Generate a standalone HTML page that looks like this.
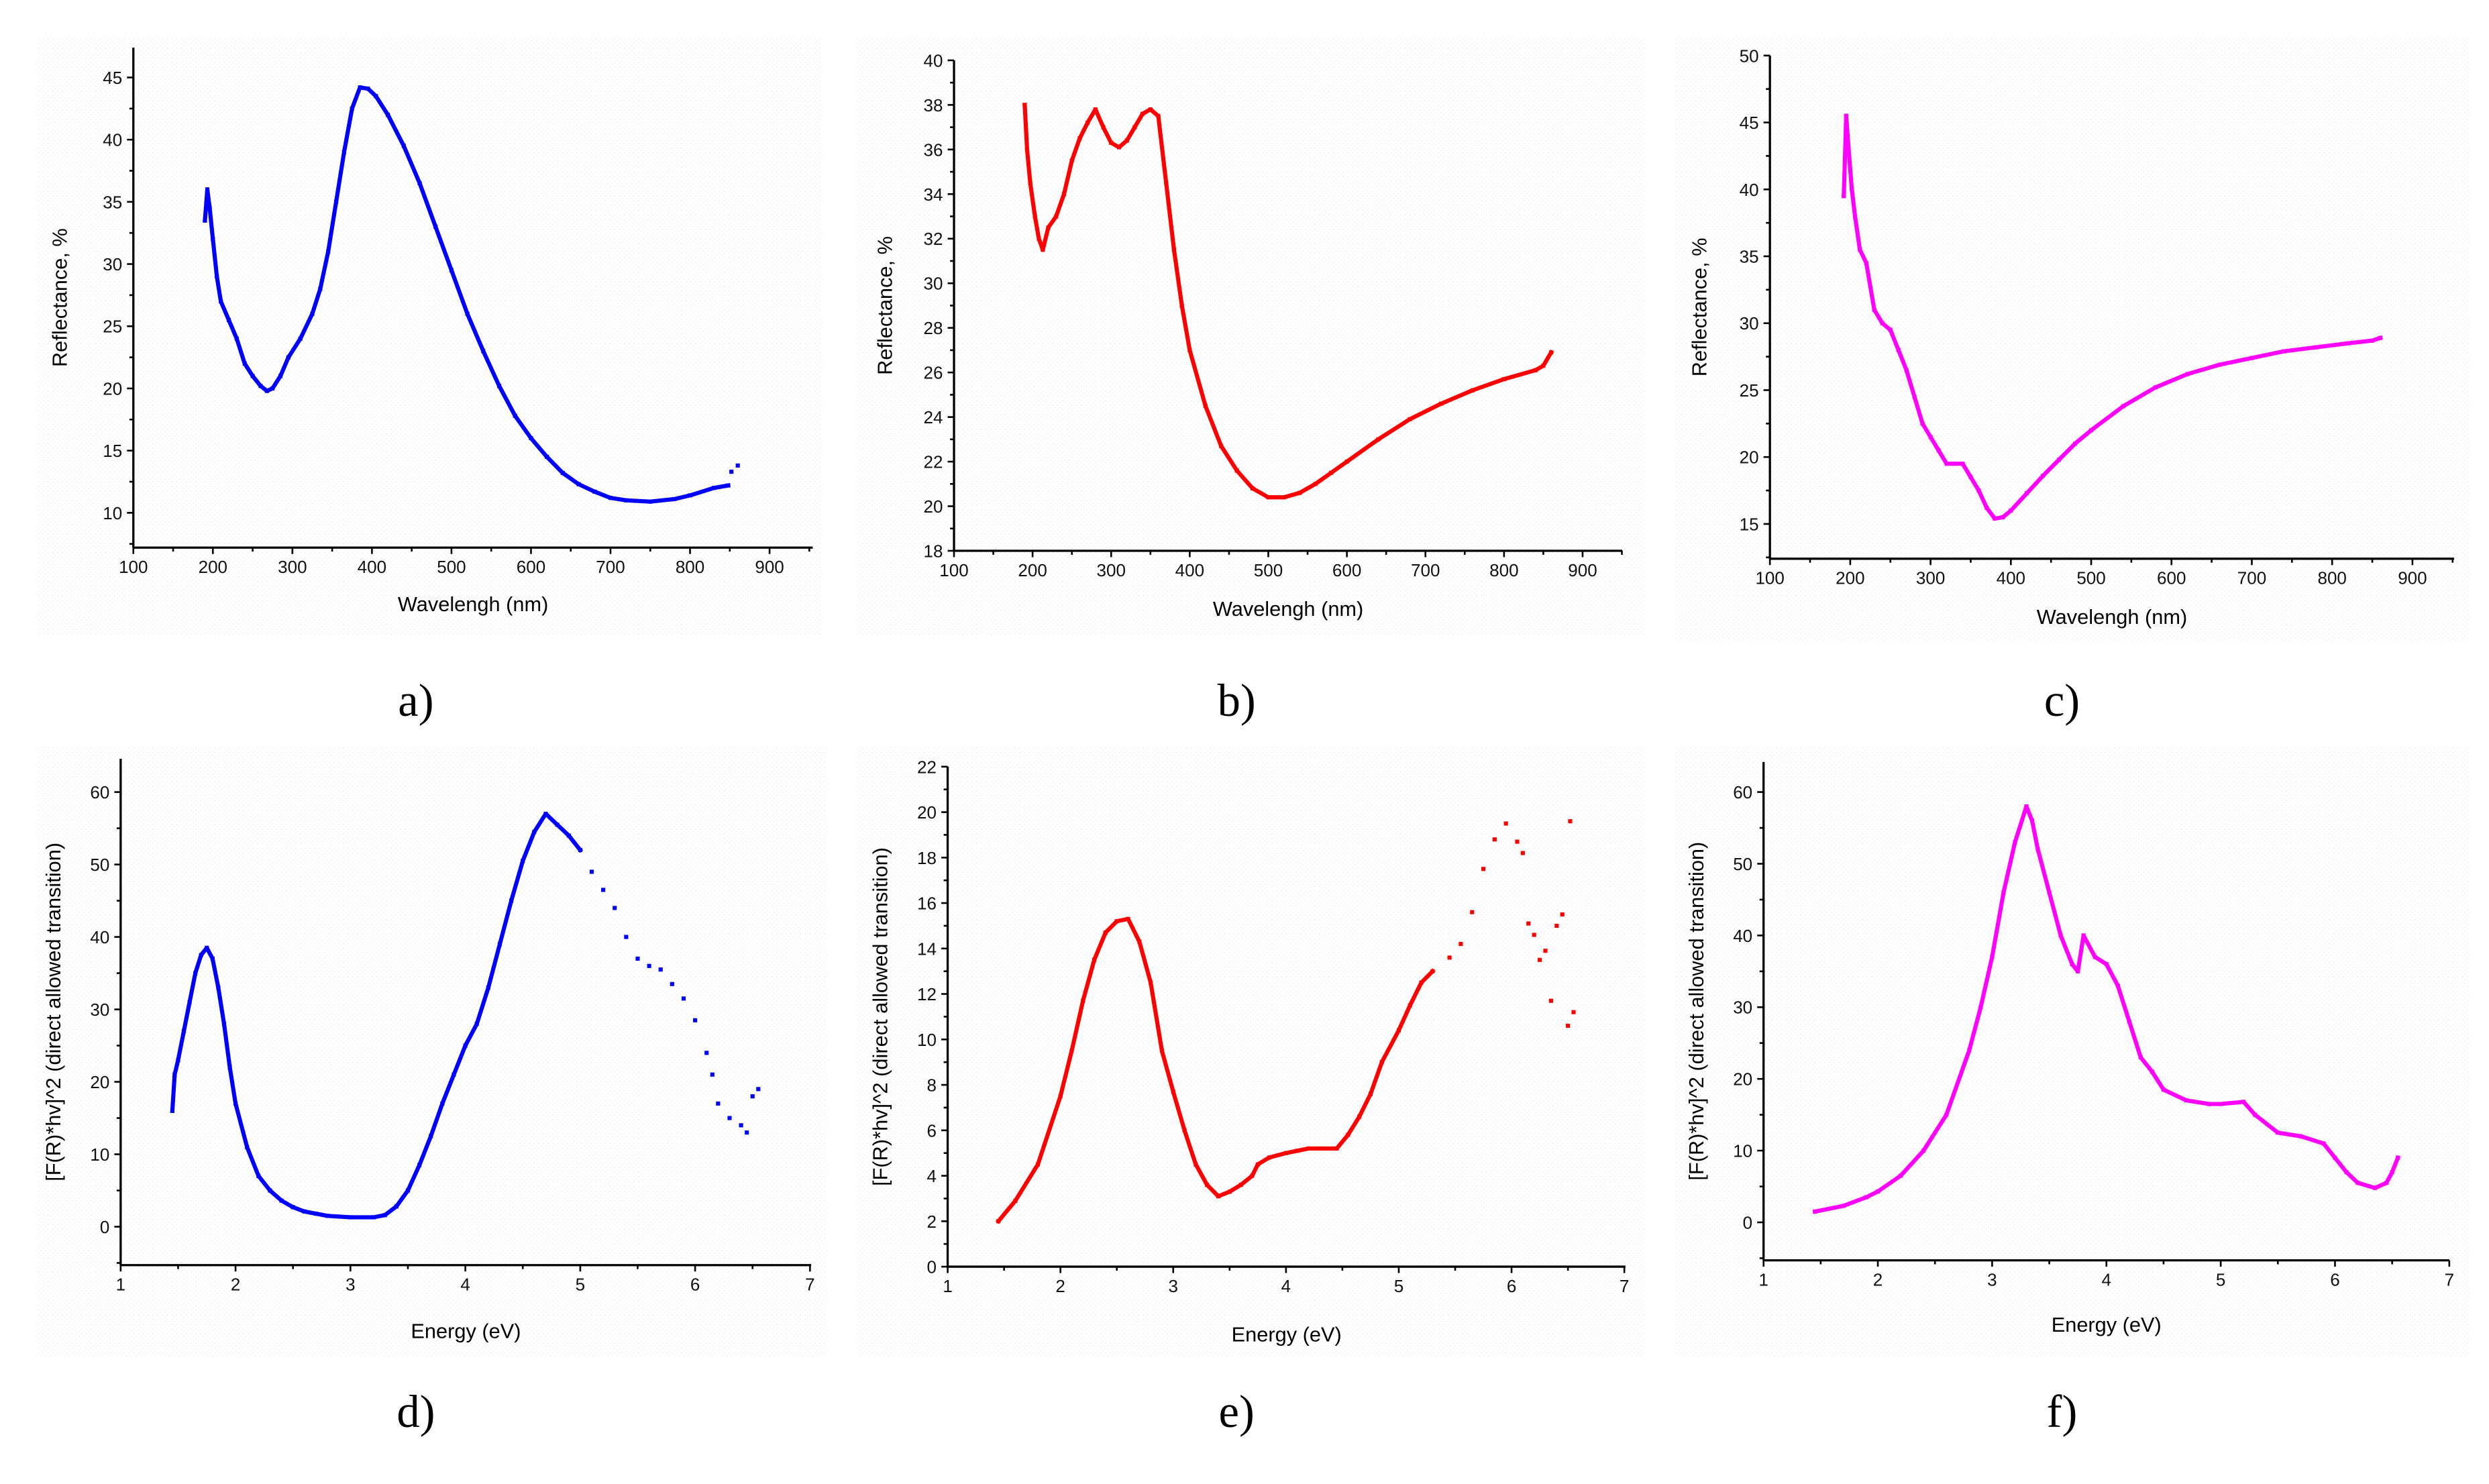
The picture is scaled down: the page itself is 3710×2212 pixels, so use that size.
<!DOCTYPE html>
<html><head><meta charset="utf-8">
<style>
html,body{margin:0;padding:0;background:#fff;}
svg{display:block;}
text{font-family:"Liberation Sans",Arial,sans-serif;}
</style></head>
<body>
<svg id="fig" width="3710" height="2212" viewBox="0 0 1568 934.9" xmlns="http://www.w3.org/2000/svg">
<defs>
<pattern id="dots" width="3" height="3" patternUnits="userSpaceOnUse">
<rect x="0" y="0" width="0.7" height="0.7" fill="#f4eaec"/>
<rect x="1.5" y="1.5" width="0.7" height="0.7" fill="#ecf6f6"/>
</pattern>
</defs>
</svg>
<script>
// ---- data (x, y) ----
const aX = [190,193,196,200,205,210,220,230,240,250,260,268,275,285,295,310,325,335,345,355,365,375,385,395,405,420,440,460,480,500,520,540,560,580,600,620,640,660,680,700,720,750,780,800,830,848,852,860];
const aY = [33.5,36,34.5,32,29,27,25.5,24,22,21,20.2,19.8,20,21,22.5,24,26,28,31,35,39,42.5,44.2,44.1,43.5,42,39.5,36.5,33,29.5,26,23,20.2,17.8,16,14.5,13.2,12.3,11.7,11.2,11,10.9,11.1,11.4,12,12.2,13.3,13.8];
const bX = [190,193,197,203,208,213,220,230,240,250,260,270,280,290,300,310,320,330,340,350,360,370,380,390,400,420,440,460,480,500,520,540,560,580,600,640,680,720,760,800,840,850,860];
const bY = [38,36,34.5,33,32,31.5,32.5,33,34,35.5,36.5,37.2,37.8,37,36.3,36.1,36.4,37,37.6,37.8,37.5,34.5,31.5,29,27,24.5,22.7,21.6,20.8,20.4,20.4,20.6,21,21.5,22,23,23.9,24.6,25.2,25.7,26.1,26.3,26.9];
const cX = [192,195,198,202,206,212,220,230,240,250,260,270,280,290,300,310,320,330,340,350,360,370,380,390,400,420,440,460,480,500,540,580,620,660,700,740,780,820,850,860];
const cY = [39.5,45.5,43,40,38,35.5,34.5,31,30,29.5,28,26.5,24.5,22.5,21.5,20.5,19.5,19.5,19.5,18.5,17.5,16.2,15.4,15.5,16,17.3,18.6,19.8,21,22,23.8,25.2,26.2,26.9,27.4,27.9,28.2,28.5,28.7,28.9];
const dX = [1.45,1.47,1.5,1.55,1.6,1.65,1.7,1.75,1.8,1.85,1.9,1.95,2.0,2.1,2.2,2.3,2.4,2.5,2.6,2.7,2.8,3.0,3.2,3.3,3.4,3.5,3.6,3.7,3.8,3.9,4.0,4.1,4.2,4.3,4.4,4.5,4.6,4.7,4.8,4.9,5.0,5.1,5.2,5.3,5.4,5.5,5.6,5.7,5.8,5.9,6.0,6.1,6.15,6.2,6.3,6.4,6.45,6.5,6.55];
const dY = [16,21,23,27,31,35,37.5,38.5,37,33,28,22,17,11,7,5,3.6,2.7,2.1,1.8,1.5,1.3,1.3,1.6,2.8,5,8.5,12.5,17,21,25,28,33,39,45,50.5,54.5,57,55.5,54,52,49,46.5,44,40,37,36,35.5,33.5,31.5,28.5,24,21,17,15,14,13,18,19];
const eX = [1.45,1.6,1.8,2.0,2.1,2.2,2.3,2.4,2.5,2.6,2.7,2.8,2.9,3.0,3.1,3.2,3.3,3.4,3.5,3.6,3.7,3.75,3.85,4.0,4.1,4.2,4.3,4.45,4.55,4.65,4.75,4.85,5.0,5.1,5.2,5.3,5.45,5.55,5.65,5.75,5.85,5.95,6.05,6.1,6.15,6.2,6.25,6.3,6.35,6.4,6.45,6.5,6.52,6.55];
const eY = [2,2.9,4.5,7.5,9.5,11.7,13.5,14.7,15.2,15.3,14.3,12.5,9.5,7.7,6,4.5,3.6,3.1,3.3,3.6,4,4.5,4.8,5,5.1,5.2,5.2,5.2,5.8,6.6,7.6,9,10.4,11.5,12.5,13,13.6,14.2,15.6,17.5,18.8,19.5,18.7,18.2,15.1,14.6,13.5,13.9,11.7,15,15.5,10.6,19.6,11.2];
const fX = [1.45,1.7,1.9,2.0,2.2,2.4,2.6,2.8,2.9,3.0,3.1,3.2,3.3,3.35,3.4,3.5,3.6,3.7,3.75,3.8,3.9,4.0,4.1,4.2,4.3,4.4,4.5,4.7,4.9,5.0,5.2,5.3,5.5,5.7,5.9,6.0,6.1,6.2,6.35,6.45,6.5,6.55];
const fY = [1.5,2.3,3.5,4.3,6.5,10,15,24,30,37,46,53,58,56,52,46,40,36,35,40,37,36,33,28,23,21,18.5,17,16.5,16.5,16.8,15,12.5,12,11,9,7,5.5,4.8,5.5,7,9];
const xTicksW = [100,200,300,400,500,600,700,800,900];
const xTicksE = [1,2,3,4,5,6,7];
const yTicksA = [10,15,20,25,30,35,40,45];
const yTicksB = [18,20,22,24,26,28,30,32,34,36,38,40];
const yTicksC = [15,20,25,30,35,40,45,50];
const yTicksD = [0,10,20,30,40,50,60];
const yTicksE = [0,2,4,6,8,10,12,14,16,18,20,22];
const yTicksF = [0,10,20,30,40,50,60];

const NS = "http://www.w3.org/2000/svg";
const svg = document.getElementById('fig');
function mk(tag, attrs, parent){
  const e = document.createElementNS(NS, tag);
  for (const k in attrs) e.setAttribute(k, attrs[k]);
  (parent||svg).appendChild(e);
  return e;
}
const WL = "Wavelengh (nm)", EN = "Energy (eV)";
const RL = "Reflectance, %", FL = "[F(R)*hv]^2 (direct allowed transition)";
const panels = [
 {id:'a',L:84,R:512,T:30,B:345,x0:100,x1:954.3,y0:7.2,y1:47.4,xs:xTicksW,xm:50,ys:yTicksA,ym:2.5,X:aX,Y:aY,col:'#0000ff',xl:WL,yl:RL,xlY:385,ylX:42,lab:'a)',labX:262,labY:451,bg:[22,22,518,400],lineEnd:45},
 {id:'b',L:601,R:1022,T:38,B:347,x0:100,x1:950.5,y0:18,y1:40,xs:xTicksW,xm:50,ys:yTicksB,ym:1,X:bX,Y:bY,col:'#ff0000',xl:WL,yl:RL,xlY:388,ylX:562,lab:'b)',labX:779,labY:451,bg:[540,22,1036,400],lineEnd:99},
 {id:'c',L:1115,R:1546,T:35,B:352,x0:100,x1:951.8,y0:12.4,y1:50,xs:xTicksW,xm:50,ys:yTicksC,ym:2.5,X:cX,Y:cY,col:'#ff00ff',xl:WL,yl:RL,xlY:393,ylX:1075,lab:'c)',labX:1299,labY:451,bg:[1056,22,1556,405],lineEnd:99},
 {id:'d',L:76,R:511,T:478,B:797,x0:1,x1:7.01,y0:-5.3,y1:64.6,xs:xTicksE,xm:0.5,ys:yTicksD,ym:5,X:dX,Y:dY,col:'#0000ff',xl:EN,yl:FL,xlY:843,ylX:38,lab:'d)',labX:262,labY:899,bg:[22,470,522,855],lineEnd:40},
 {id:'e',L:597,R:1024,T:483,B:798,x0:1,x1:7.01,y0:0,y1:22,xs:xTicksE,xm:0.5,ys:yTicksE,ym:1,X:eX,Y:eY,col:'#ff0000',xl:EN,yl:FL,xlY:845,ylX:559,lab:'e)',labX:779,labY:899,bg:[540,470,1036,855],lineEnd:35},
 {id:'f',L:1111,R:1543,T:480,B:794,x0:1,x1:7.0,y0:-5.3,y1:64.2,xs:xTicksE,xm:0.5,ys:yTicksF,ym:5,X:fX,Y:fY,col:'#ff00ff',xl:EN,yl:FL,xlY:839,ylX:1073,lab:'f)',labX:1299,labY:899,bg:[1056,470,1556,855],lineEnd:99}
];
panels.forEach(p=>{
  const g = mk('g',{});
  
  
  const bgR = mk('rect',{x:p.bg[0],y:p.bg[1],width:p.bg[2]-p.bg[0],height:p.bg[3]-p.bg[1],fill:'url(#dots)'},g);
  
  
  const sx = v => p.L + (v-p.x0)/(p.x1-p.x0)*(p.R-p.L);
  const sy = v => p.B - (v-p.y0)/(p.y1-p.y0)*(p.B-p.T);
  const sg = mk('g',{},g);
  
  
  let pts = [];
  for (let i=0;i<p.X.length && i<=p.lineEnd;i++) pts.push(sx(p.X[i]).toFixed(2)+','+sy(p.Y[i]).toFixed(2));
  const pl = mk('polyline',{points:pts.join(' '),fill:'none',stroke:p.col,'stroke-width':2.6,'stroke-linejoin':'round','stroke-linecap':'square'},sg);
  
  
  for (let i=0;i<p.X.length;i++){
    const r = mk('rect',{x:sx(p.X[i])-1.3,y:sy(p.Y[i])-1.3,width:2.6,height:2.6,fill:p.col},sg);
    
    
  }
  const ax = mk('line',{x1:p.L,y1:p.B,x2:p.R,y2:p.B,stroke:'#000','stroke-width':1.4},g);
  
  
  const ay = mk('line',{x1:p.L,y1:p.T,x2:p.L,y2:p.B,stroke:'#000','stroke-width':1.4},g);
  
  
  for (let v=p.x0; v<=p.x1+1e-9; v+=p.xm){
    const major = p.xs.some(t=>Math.abs(t-v)<1e-6);
    mk('line',{x1:sx(v),y1:p.B,x2:sx(v),y2:p.B+(major?4:2.5),stroke:'#000','stroke-width':1.1},g);
  }
  p.xs.forEach(t=>{
    const tx = mk('text',{x:sx(t),y:p.B+16,'font-size':11,'text-anchor':'middle',fill:'#111'},g);
    tx.textContent = t;
    
    
  });
  const ystart = Math.ceil(p.y0/p.ym)*p.ym;
  for (let v=ystart; v<=p.y1+1e-9; v+=p.ym){
    const major = p.ys.some(t=>Math.abs(t-v)<1e-6);
    mk('line',{x1:p.L,y1:sy(v),x2:p.L-(major?4:2.5),y2:sy(v),stroke:'#000','stroke-width':1.1},g);
  }
  p.ys.forEach(t=>{
    const ty = mk('text',{x:p.L-7,y:sy(t)+4,'font-size':11,'text-anchor':'end',fill:'#111'},g);
    ty.textContent = t;
    
    
  });
  const xt = mk('text',{x:(p.L+p.R)/2,y:p.xlY,'font-size':13,'text-anchor':'middle',fill:'#000'},g);
  xt.textContent = p.xl;
  
  
  const yc = (p.T+p.B)/2;
  const yt = mk('text',{x:p.ylX,y:yc,'font-size':13,'text-anchor':'middle',fill:'#000',transform:'rotate(-90 '+p.ylX+' '+yc+')'},g);
  yt.textContent = p.yl;
  
  
  const lb = mk('text',{x:p.labX,y:p.labY,'font-size':29,'text-anchor':'middle',fill:'#000','style':'font-family:"Liberation Serif",serif'},g);
  lb.textContent = p.lab;
  
  
});
</script>
</body></html>
